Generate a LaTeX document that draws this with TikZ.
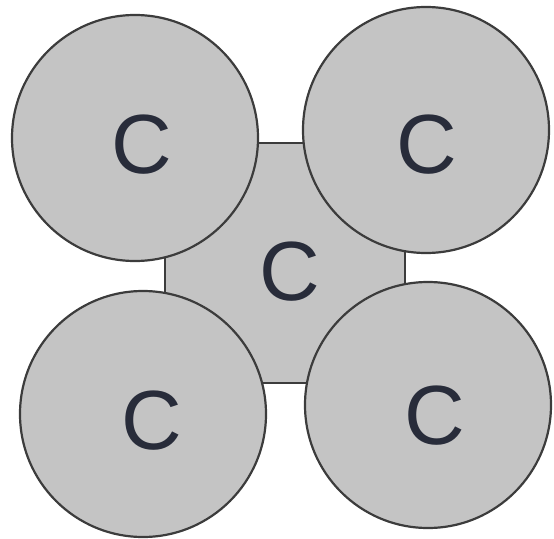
\documentclass[tikz,border=0pt]{standalone}
\usepackage{fontspec}
\setmainfont{Liberation Sans}
\definecolor{atomfill}{RGB}{196,196,196}
\definecolor{atomline}{RGB}{60,60,60}
\definecolor{atomtext}{RGB}{40,44,58}
\begin{document}
\begin{tikzpicture}[x=1pt,y=-1pt,
  atom/.style={circle,draw=atomline,line width=2.2pt,fill=atomfill,minimum size=246pt,inner sep=0pt},
  core/.style={rectangle,draw=atomline,line width=2.2pt,fill=atomfill,minimum size=240pt,inner sep=0pt},
  sym/.style={text=atomtext,inner sep=0pt,font=\fontsize{84}{84}\selectfont}]
\useasboundingbox (0,0) rectangle (554,538);
\node[core] (sq) at (285,263) {};
\node[atom] (tl) at (135,138) {};
\node[atom] (tr) at (426,130) {};
\node[atom] (bl) at (143,414) {};
\node[atom] (br) at (428,405) {};
\node[sym] (ltl) at (142,145) {C};
\node[sym] (ltr) at (427,145) {C};
\node[sym] (lbl) at (152,421) {C};
\node[sym] (lbr) at (435,416) {C};
\node[sym] (lsq) at (290,272) {C};
\end{tikzpicture}
\end{document}
